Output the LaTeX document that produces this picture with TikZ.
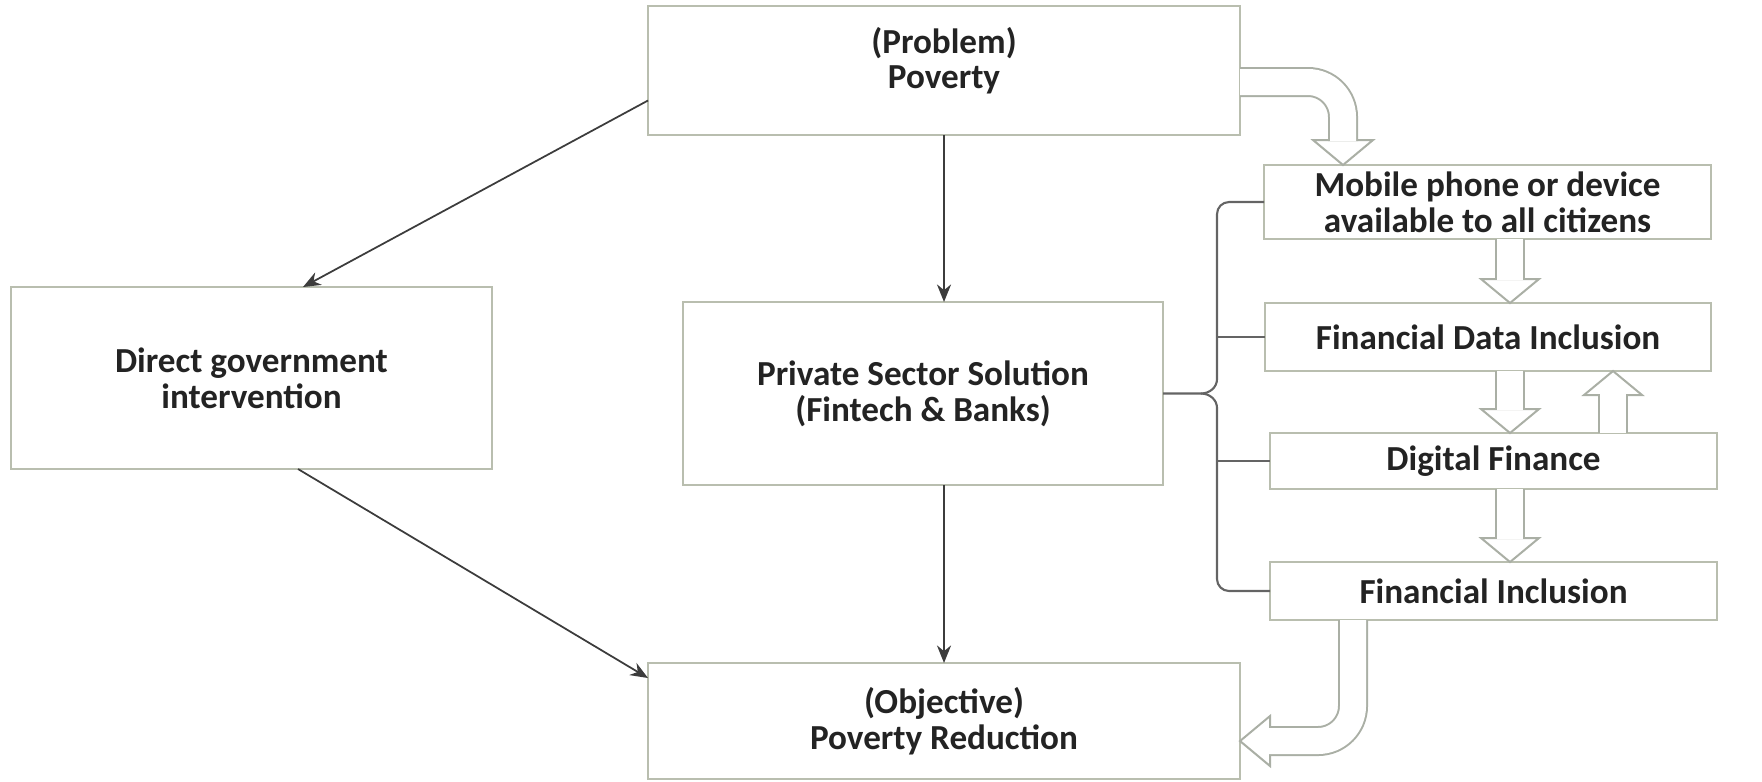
\documentclass[tikz,border=0pt]{standalone}
\usepackage{fontspec}
\setmainfont{Carlito}
\usepackage{tikz}
\usetikzlibrary{arrows.meta,positioning,calc}
\definecolor{boxLine}{RGB}{185, 190, 175}
\definecolor{hollowLine}{RGB}{170, 175, 165}
\definecolor{linkGray}{RGB}{60, 60, 60}
\definecolor{braceGray}{RGB}{100, 100, 100}
\definecolor{labelInk}{RGB}{35, 35, 35}

\begin{document}
\begin{tikzpicture}[
        block/.style={rectangle, draw=boxLine, line width=0.6pt, fill=white, inner sep=0pt, outer sep=0pt, align=center, text=labelInk, font=\bfseries\fontsize{10}{10.2}\selectfont},
        link/.style={-{Stealth[length=5pt, width=4pt]}, draw=linkGray, line width=0.5pt},
        brace/.style={draw=braceGray, line width=0.6pt},
        hollow/.style={white, line width=0.26cm, preaction={draw, hollowLine, line width=0.30cm}},
        head/.style={fill=white, draw=hollowLine, line width=0.02cm, line join=miter}
    ]
        \useasboundingbox (0,0) rectangle (17.62,-7.81);

        % Main column
        \node[block, minimum width=5.92cm, minimum height=1.29cm, text depth=0.25cm] (poverty) at (9.44,-0.705) {(Problem)\\Poverty};
        \node[block, minimum width=4.80cm, minimum height=1.83cm] (private) at (9.23,-3.935) {Private Sector Solution\\(Fintech \& Banks)};
        \node[block, minimum width=5.92cm, minimum height=1.16cm] (objective) at (9.44,-7.21) {(Objective)\\Poverty Reduction};

        % Left branch
        \node[block, minimum width=4.81cm, minimum height=1.82cm] (govt) at (2.515,-3.78) {Direct government\\intervention};

        % Right column
        \node[block, minimum width=4.47cm, minimum height=0.74cm] (mobile) at (14.875,-2.02) {Mobile phone or device\\available to all citizens};
        \node[block, minimum width=4.46cm, minimum height=0.68cm] (fdi) at (14.88,-3.37) {Financial Data Inclusion};
        \node[block, minimum width=4.47cm, minimum height=0.56cm] (dfin) at (14.935,-4.61) {Digital Finance};
        \node[block, minimum width=4.47cm, minimum height=0.58cm] (finc) at (14.935,-5.91) {Financial Inclusion};

        % Thin arrows
        \draw[link] ([yshift=-0.30cm]poverty.west) -- ([xshift=0.515cm]govt.north);
        \draw[link] ([xshift=0.465cm]govt.south) -- ([yshift=0.43cm]objective.west);
        \draw[link] (poverty.south) -- (poverty.south |- private.north);
        \draw[link] (objective.north |- private.south) -- (objective.north);

        % Brace
        \coordinate (spine) at (12.17,-3.935);
        \draw[brace] (mobile.west) -- (12.29,-2.02) to[out=180, in=90] (12.17,-2.14) -- (12.17,-3.79) to[out=-90, in=0] (12.01,-3.935) -- (private.east);
        \draw[brace] (12.01,-3.935) to[out=0, in=90] (12.17,-4.08) -- (12.17,-5.79) to[out=-90, in=180] (12.29,-5.91) -- (finc.west);
        \draw[brace] (spine |- fdi.west) -- (fdi.west);
        \draw[brace] (spine |- dfin.west) -- (dfin.west);

        % Hollow arrows
        \coordinate (dn) at (15.10,0);
        \coordinate (up) at (16.13,0);
        \coordinate (t1) at (13.43,-1.65);
        \coordinate (t5) at (12.40,-7.41);

        \filldraw[head] (t1) -- ++(-0.30,0.25) -- ++(0.60,0) -- cycle;
        \draw[hollow, rounded corners=0.35cm] ([yshift=-0.115cm]poverty.east) -- (13.43,-0.82) -- (13.43,-1.41);

        \filldraw[head] (dn |- fdi.north) -- ++(-0.29,0.24) -- ++(0.58,0) -- cycle;
        \draw[hollow] (dn |- mobile.south) -- ([yshift=0.23cm]dn |- fdi.north);

        \filldraw[head] (dn |- dfin.north) -- ++(-0.29,0.24) -- ++(0.58,0) -- cycle;
        \draw[hollow] (dn |- fdi.south) -- ([yshift=0.23cm]dn |- dfin.north);

        \filldraw[head] (dn |- finc.north) -- ++(-0.29,0.24) -- ++(0.58,0) -- cycle;
        \draw[hollow] (dn |- dfin.south) -- ([yshift=0.23cm]dn |- finc.north);

        \filldraw[head] (up |- fdi.south) -- ++(-0.29,-0.24) -- ++(0.58,0) -- cycle;
        \draw[hollow] (up |- dfin.north) -- ([yshift=-0.23cm]up |- fdi.south);

        \filldraw[head] (t5) -- ++(0.30,0.25) -- ++(0,-0.50) -- cycle;
        \draw[hollow, rounded corners=0.35cm] (13.53,0 |- finc.south) -- (13.53,-7.41) -- (12.69,-7.41);

    \end{tikzpicture}
\end{document}
